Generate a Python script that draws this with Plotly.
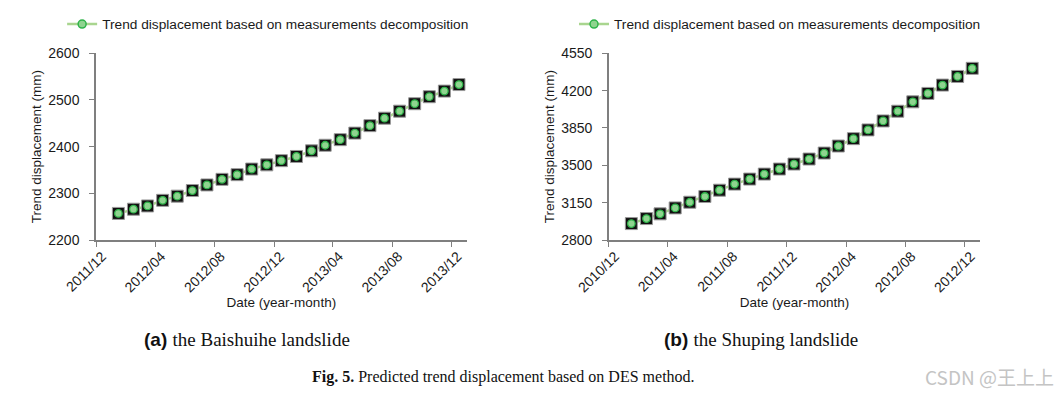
import plotly.graph_objects as go
import pandas as pd

# ---- data ----
months_a = ["2012-01", "2012-02", "2012-03", "2012-04", "2012-05", "2012-06",
            "2012-07", "2012-08", "2012-09", "2012-10", "2012-11", "2012-12",
            "2013-01", "2013-02", "2013-03", "2013-04", "2013-05", "2013-06",
            "2013-07", "2013-08", "2013-09", "2013-10", "2013-11", "2013-12"]
trend_a = [2257, 2266, 2273, 2285, 2294, 2306, 2318, 2330, 2340, 2352, 2361, 2370,
           2379, 2391, 2403, 2415, 2429, 2445, 2461, 2476, 2492, 2507, 2519, 2533]

months_b = ["2011-01", "2011-02", "2011-03", "2011-04", "2011-05", "2011-06",
            "2011-07", "2011-08", "2011-09", "2011-10", "2011-11", "2011-12",
            "2012-01", "2012-02", "2012-03", "2012-04", "2012-05", "2012-06",
            "2012-07", "2012-08", "2012-09", "2012-10", "2012-11", "2012-12"]
trend_b = [2954, 3001, 3045, 3101, 3154, 3208, 3267, 3324, 3371, 3418, 3465, 3512,
           3559, 3615, 3681, 3750, 3832, 3916, 4007, 4095, 4174, 4252, 4333, 4409]

ticks_a = ["2011/12", "2012/04", "2012/08", "2012/12", "2013/04", "2013/08", "2013/12"]
ticks_b = ["2010/12", "2011/04", "2011/08", "2011/12", "2012/04", "2012/08", "2012/12"]

series_name = "Trend displacement based on measurements decomposition"

LINE = "#a9d58f"
DOT_FILL = "#8fd48f"
DOT_EDGE = "#2fb34a"
FONT = "Liberation Sans, Arial, sans-serif"
SERIF = "Liberation Serif, Times New Roman, serif"


def mid_month(m):
    return pd.Timestamp(m + "-01") + pd.Timedelta(days=15)


def tick_dates(labels):
    return [pd.Timestamp(t.replace("/", "-") + "-01") for t in labels]


fig = go.Figure()

panels = [
    (months_a, trend_a, "x", "y", "legend"),
    (months_b, trend_b, "x2", "y2", "legend2"),
]

for months, vals, xa, ya, lg in panels:
    xs = [mid_month(m) for m in months]
    fig.add_trace(go.Scatter(x=xs, y=vals, mode="lines", xaxis=xa, yaxis=ya,
                             line=dict(color=LINE, width=2.5), showlegend=False,
                             hoverinfo="skip"))
    fig.add_trace(go.Scatter(x=xs, y=vals, mode="markers", xaxis=xa, yaxis=ya,
                             marker=dict(symbol="square", size=12, color="#111111",
                                         line=dict(color="#9a9a9a", width=1)),
                             showlegend=False, hoverinfo="skip"))
    fig.add_trace(go.Scatter(x=xs, y=vals, mode="markers", xaxis=xa, yaxis=ya,
                             marker=dict(symbol="circle", size=7.5, color=DOT_FILL,
                                         line=dict(color=DOT_EDGE, width=1.3)),
                             showlegend=False))
    fig.add_trace(go.Scatter(x=[None], y=[None], mode="lines+markers", xaxis=xa, yaxis=ya,
                             name=series_name, legend=lg,
                             line=dict(color=LINE, width=2.5),
                             marker=dict(symbol="circle", size=8, color=DOT_FILL,
                                         line=dict(color=DOT_EDGE, width=1.5))))

axis_common = dict(showgrid=False, zeroline=False, showline=True, linecolor="#7f7f7f",
                   linewidth=1.5, ticks="outside", ticklen=5, tickcolor="#7f7f7f",
                   automargin=False,
                   tickfont=dict(family=FONT, size=14, color="#1a1a1a"))

ta = tick_dates(ticks_a)
tb = tick_dates(ticks_b)

xtitle = dict(text="Date (year-month)", font=dict(family=FONT, size=13.5, color="#1a1a1a"), standoff=3)
ytitle = dict(text="Trend displacement (mm)", font=dict(family=FONT, size=13.5, color="#1a1a1a"), standoff=4)

fig.update_layout(
    width=1062, height=396,
    margin=dict(l=0, r=0, t=0, b=0),
    paper_bgcolor="white", plot_bgcolor="white",
    font=dict(family=FONT, color="#1a1a1a"),
    xaxis=dict(domain=[0.0904, 0.4395], type="date", anchor="y",
               range=[ta[0], pd.Timestamp("2014-01-01")],
               tickvals=ta, ticktext=ticks_a, tickangle=-45,
               ticklabelstandoff=-4, ticklabelshift=6,
               title=xtitle, **axis_common),
    yaxis=dict(domain=[0.3939, 0.8654], anchor="x", range=[2200, 2600], dtick=100,
               ticklabelstandoff=7, title=ytitle, **axis_common),
    xaxis2=dict(domain=[0.5734, 0.9228], type="date", anchor="y2",
                range=[tb[0], pd.Timestamp("2013-01-01")],
                tickvals=tb, ticktext=ticks_b, tickangle=-45,
                ticklabelstandoff=-4, ticklabelshift=6,
                title=xtitle, **axis_common),
    yaxis2=dict(domain=[0.3939, 0.8654], anchor="x2", range=[2800, 4550], dtick=350,
                ticklabelstandoff=7, title=ytitle, **axis_common),
    legend=dict(x=0.0585, y=0.939, xanchor="left", yanchor="middle", bgcolor="rgba(0,0,0,0)",
                font=dict(family=FONT, size=13.7, color="#1a1a1a"), itemwidth=30,
                tracegroupgap=0),
    legend2=dict(x=0.5405, y=0.939, xanchor="left", yanchor="middle", bgcolor="rgba(0,0,0,0)",
                 font=dict(family=FONT, size=13.7, color="#1a1a1a"), itemwidth=30,
                 tracegroupgap=0),
)

annotations = [
    dict(x=247, y=339, text="<b>(a)</b> <span style='font-family:Liberation Serif'>the Baishuihe landslide</span>",
         font=dict(family=FONT, size=19, color="#111111")),
    dict(x=761, y=339, text="<b>(b)</b> <span style='font-family:Liberation Serif'>the Shuping landslide</span>",
         font=dict(family=FONT, size=19, color="#111111")),
    dict(x=503, y=377, text="<b>Fig. 5.</b> Predicted trend displacement based on DES method.",
         font=dict(family=SERIF, size=16, color="#111111")),
    dict(x=989, y=376, text="CSDN @王上上",
         font=dict(family="Noto Sans CJK SC, sans-serif", size=19, color="#c4c4c4")),
]
for a in annotations:
    fig.add_annotation(x=a["x"] / 1062, y=1 - a["y"] / 396, xref="paper", yref="paper",
                       text=a["text"], showarrow=False, font=a["font"],
                       xanchor="center", yanchor="middle")

fig.write_html("out.html", config={"displayModeBar": False},
               post_script="document.body.style.margin='0';")
